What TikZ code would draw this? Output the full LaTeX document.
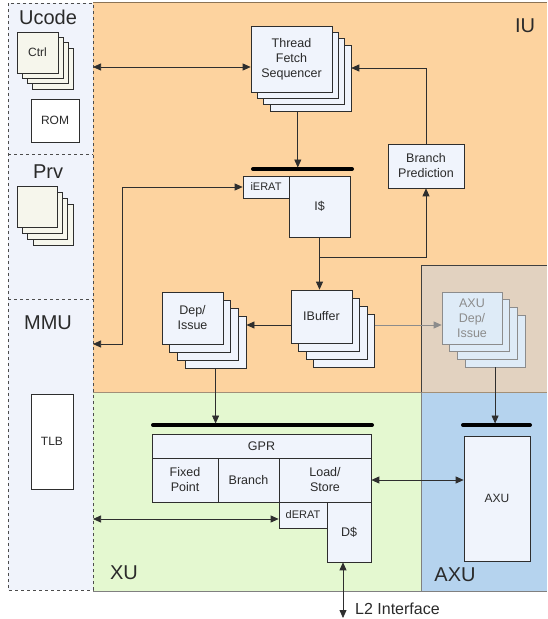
\documentclass[tikz,border=0pt]{standalone}
\usepackage{fontspec}
\setmainfont{Liberation Sans}
\usetikzlibrary{arrows.meta}
\definecolor{iuc}{HTML}{FDD39F}
\definecolor{xuc}{HTML}{E4F8D0}
\definecolor{axuc}{HTML}{B5D3EE}
\definecolor{axdc}{HTML}{E2D2C0}
\definecolor{leftc}{HTML}{F0F3FB}
\definecolor{boxc}{HTML}{F0F4FC}
\definecolor{ctrlc}{HTML}{F6F6EC}
\definecolor{linec}{HTML}{2E2E2E}
\definecolor{brownc}{HTML}{8B7355}
\definecolor{textc}{HTML}{2A2A2A}
\newcommand\stk[9]{%
  \foreach \i in {3,2,1} {\node[#8, minimum width=#4pt, minimum height=#5pt] (#1-\i) at ({#2+\i*#6},{#3+\i*#7}) {};}
  \node[#8, minimum width=#4pt, minimum height=#5pt] (#1) at (#2,#3) {#9};}
\begin{document}
\begin{tikzpicture}[x=1pt,y=-1pt,
  blk/.style={draw=linec, fill=boxc, line width=0.7pt, inner sep=0pt, align=center, text=textc, font=\fontsize{12.5}{15}\selectfont},
  ctrlbox/.style={blk, fill=ctrlc, font=\fontsize{12}{14}\selectfont},
  whitebox/.style={blk, fill=white, font=\fontsize{12}{14}\selectfont},
  axdbox/.style={blk, fill=axuc!45!white, draw=linec!55, text=black!45},
  small/.style={font=\fontsize{11}{13}\selectfont},
  biglabel/.style={text=textc, font=\fontsize{20}{22}\selectfont, inner sep=0pt},
  arr/.style={draw=linec, line width=0.75pt, -{Triangle[length=8pt,width=7pt]}},
  darr/.style={draw=linec, line width=0.75pt, {Triangle[length=8pt,width=7pt]}-{Triangle[length=8pt,width=7pt]}},
  garr/.style={draw=black!45, line width=0.75pt, -{Triangle[length=8pt,width=7pt]}},
  barline/.style={draw=black, line width=4pt, line cap=round}]
\useasboundingbox (0,0) rectangle (547,619);
% regions
\fill[iuc] (93,2) rectangle (547,392);
\draw[brownc, line width=0.8pt] (93,2) -- (547,2);
\fill[axdc] (421,265) rectangle (547,392);
\draw[black!75, line width=0.8pt] (421,392) -- (421,265) -- (547,265);
\fill[xuc] (93,392) rectangle (421,591);
\fill[axuc] (421,392) rectangle (547,591);
\draw[brownc!80, line width=0.6pt] (93,392) -- (547,392);
\draw[black!50, line width=0.6pt] (421,392) -- (421,591);
\draw[black!50, line width=0.6pt] (93,591) -- (547,591);
\draw[black!70, dashed, fill=leftc, line width=0.6pt] (8,3) rectangle (93,590);
\draw[black!70, dashed, line width=0.6pt] (8,154) -- (93,154);
\draw[black!70, dashed, line width=0.6pt] (8,299) -- (93,299);
% big labels
\node[biglabel] (lucode) at (48,17) {Ucode};
\node[biglabel] (lprv) at (48,172) {Prv};
\node[biglabel] (lmmu) at (48,323) {MMU};
\node[biglabel] (liu) at (525,26) {IU};
\node[biglabel] (lxu) at (124,573) {XU};
\node[biglabel] (laxu) at (455,575) {AXU};
% left panel boxes
\stk{ctrl}{37.5}{52.5}{41}{41}{5}{5.3}{ctrlbox}{Ctrl}
\node[whitebox, minimum width=48pt, minimum height=43pt] (rom) at (55,120.5) {ROM};
\stk{prv}{37}{206.5}{40}{41}{5.3}{6}{ctrlbox}{}
\node[whitebox, minimum width=42pt, minimum height=95pt] (tlb) at (52,441.5) {TLB};
% IU
\stk{tfs}{291.5}{59}{81}{66}{6.3}{6.3}{blk}{Thread\\Fetch\\Sequencer}
\coordinate (b1l) at (253,169);
\coordinate (b1r) at (352,169);
\draw[barline] (b1l) -- (b1r);
\node[blk, small, minimum width=46pt, minimum height=22pt] (ierat) at (266,187) {iERAT};
\node[blk, minimum width=61pt, minimum height=61pt] (icache) at (319.5,206.5) {I\$};
\node[blk, minimum width=76pt, minimum height=44pt] (bp) at (426,166) {Branch\\Prediction};
\stk{ibuf}{321.5}{316.5}{61}{53}{7.5}{8}{blk}{IBuffer}
\stk{dep}{192.5}{318}{61}{52}{7.7}{8}{blk}{Dep/\\Issue}
\stk{axd}{472}{318}{60}{52}{7.7}{7.7}{axdbox}{AXU\\Dep/\\Issue}
% XU
\coordinate (b2l) at (153,425);
\coordinate (b2r) at (372,425);
\draw[barline] (b2l) -- (b2r);
\node[blk, minimum width=219pt, minimum height=24pt] (gpr) at (261.5,446) {GPR};
\node[blk, minimum width=66pt, minimum height=44pt] (fp) at (185,480) {Fixed\\Point};
\node[blk, minimum width=61pt, minimum height=44pt] (br) at (248.5,480) {Branch};
\node[blk, minimum width=92pt, minimum height=44pt] (ls) at (325,480) {Load/\\Store};
\node[blk, small, minimum width=48pt, minimum height=26pt] (derat) at (303,515) {dERAT};
\node[blk, minimum width=44pt, minimum height=60pt] (dcache) at (349,532) {D\$};
% AXU
\coordinate (b3l) at (463,425);
\coordinate (b3r) at (530,425);
\draw[barline] (b3l) -- (b3r);
\node[blk, font=\fontsize{12}{14}\selectfont, minimum width=66pt, minimum height=125pt] (axu) at (497,498.5) {AXU};
% connectors
\coordinate (lp1) at (93,67);
\draw[darr] (lp1) -- (lp1 -| tfs.west);
\coordinate (bpt) at (426,68);
\draw[arr] (bp.north) -- (bpt) -- (bpt -| tfs-3.east);
\draw[arr, shorten >=1.5pt] (tfs-1.south |- tfs-3.south) -- (tfs-1.south |- b1l);
\draw[arr] (icache.south) -- (icache.south |- ibuf.north);
\coordinate (j1) at (320,257);
\draw[arr] (j1) -| (bp.south);
\coordinate (lp2) at (93,344);
\coordinate (k1) at (122,344);
\draw[darr] (lp2) -- (k1) |- (ierat.west);
\coordinate (m1) at (300,325);
\draw[arr] (m1 -| ibuf.west) -- (m1 -| dep-3.east);
\draw[garr] (m1 -| ibuf-3.east) -- (m1 -| axd.west);
\draw[arr, shorten >=1.5pt] (dep-3.south) -- (dep-3.south |- b2l);
\draw[arr, shorten >=1.5pt] (axd-3.south) -- (axd-3.south |- b3l);
\draw[darr] (ls.east) -- (ls.east -| axu.west);
\coordinate (lp3) at (93,519);
\draw[darr] (lp3) -- (lp3 -| derat.west);
\coordinate (l2) at (343,618);
\draw[darr] (l2 |- dcache.south) -- (l2);
\node[anchor=west, text=textc, font=\fontsize{16}{18}\selectfont, inner sep=0pt] (l2t) at (355,609) {L2 Interface};
\end{tikzpicture}
\end{document}
